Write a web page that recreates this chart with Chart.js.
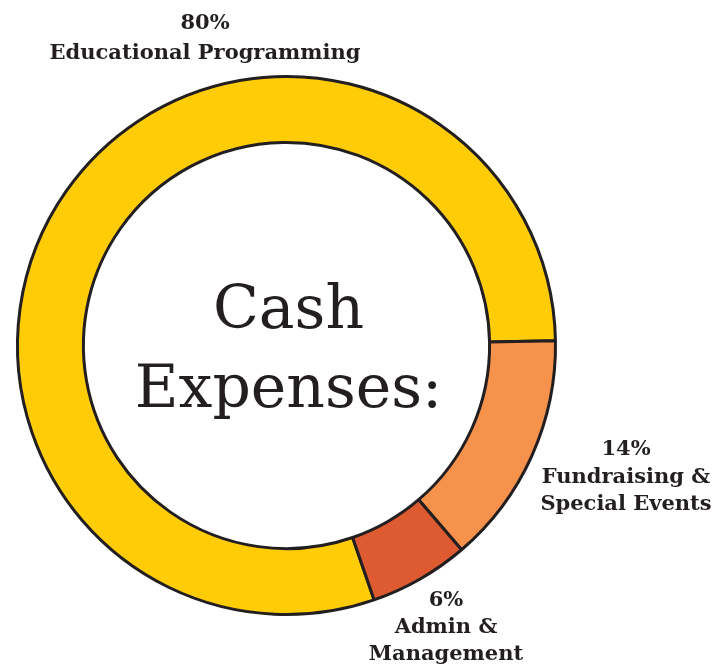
<!DOCTYPE html>
<html>
<head>
<meta charset="utf-8">
<script src="https://cdn.jsdelivr.net/npm/chart.js@4"></script>
<style>
  html, body { margin: 0; padding: 0; background: #ffffff; }
  #wrap { width: 726px; height: 669px; position: relative; }
</style>
</head>
<body>
<div id="wrap"><canvas id="c"></canvas></div>
<script>
const categories = ["Educational Programming", "Fundraising & Special Events", "Admin & Management"];
const values = [80, 14, 6];
const colors = ["#FFCC05", "#F6924B", "#DE5B31"];
const labelLines = [
  ["80%", "Educational Programming"],
  ["14%", "Fundraising &", "Special Events"],
  ["6%", "Admin &", "Management"]
];
const centerLines = ["Cash", "Expenses:"];

const ink = "#231f20";
const labelFont = "bold 21px 'DejaVu Serif', serif";
const centerFont = "60px 'DejaVu Serif', serif";

// label anchor positions (centre x, first baseline y, line gap)
const labelPos = [
  {x: 205, y: 29, gap: 30},
  {x: 626, y: 455, gap: 27.5},
  {x: 446, y: 606, gap: 27}
];

const textPlugin = {
  id: 'texts',
  afterDraw(chart) {
    const ctx = chart.ctx;
    const arc = chart.getDatasetMeta(0).data[0];
    ctx.save();
    ctx.fillStyle = ink;
    ctx.textAlign = 'center';
    ctx.textBaseline = 'alphabetic';
    ctx.font = labelFont;
    labelLines.forEach((lines, i) => {
      const p = labelPos[i];
      lines.forEach((t, j) => ctx.fillText(t, p.x, p.y + j * p.gap));
    });
    ctx.font = centerFont;
    const cx = arc.x + 2, cy = arc.y;
    ctx.fillText(centerLines[0], cx, cy - 18);
    ctx.fillText(centerLines[1], cx, cy + 61);
    ctx.restore();
  }
};

new Chart(document.getElementById('c'), {
  type: 'doughnut',
  data: {
    labels: categories,
    datasets: [{
      data: values,
      backgroundColor: colors,
      borderColor: ink,
      borderWidth: 3,
      hoverBorderWidth: 3
    }]
  },
  options: {
    responsive: true,
    maintainAspectRatio: false,
    animation: false,
    rotation: 161,
    cutout: '75.5%',
    layout: { padding: { left: 16, right: 169, top: 75, bottom: 53 } },
    plugins: { legend: { display: false }, tooltip: { enabled: false } }
  },
  plugins: [textPlugin]
});
</script>
</body>
</html>
